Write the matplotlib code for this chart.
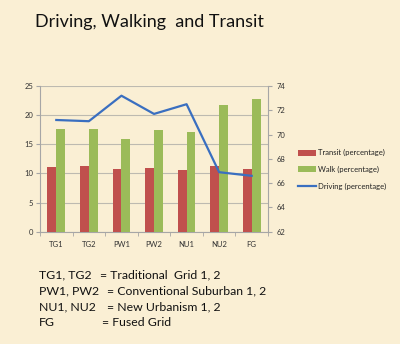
import matplotlib
matplotlib.use("Agg")
import matplotlib.pyplot as plt
import numpy as np
from matplotlib.patches import Patch
from matplotlib.lines import Line2D

categories = ["TG1", "TG2", "PW1", "PW2", "NU1", "NU2", "FG"]
transit = [11.1, 11.3, 10.8, 11.0, 10.5, 11.3, 10.8]
walk = [17.7, 17.6, 15.9, 17.4, 17.1, 21.8, 22.7]
driving = [71.2, 71.1, 73.2, 71.7, 72.5, 66.9, 66.6]
left_ticks = [0, 5, 10, 15, 20, 25]
right_ticks = [62, 64, 66, 68, 70, 72, 74]

notes_left = ["TG1, TG2", "PW1, PW2", "NU1, NU2", "FG"]
notes_right = ["= Traditional  Grid 1, 2", "= Conventional Suburban 1, 2",
               "= New Urbanism 1, 2", "= Fused Grid"]

bg = "#FAEFD4"
red = "#C0504D"
green = "#9BBB59"
blue = "#3A6FC0"
axis_gray = "#A6A6A6"
font = "Lato"

plt.rcParams['font.family'] = [font, 'DejaVu Sans']

fig = plt.figure(figsize=(4.0, 3.44), dpi=100, facecolor=bg)
ax = fig.add_axes([0.1, 0.3265, 0.57, 0.4235])
ax.set_facecolor("none")

x = np.arange(len(categories))
w = 0.27
ax.bar(x - 0.135, transit, width=w, color=red, zorder=3)
ax.bar(x + 0.135, walk, width=w, color=green, zorder=3)
ax.set_xlim(-0.5, len(categories) - 0.5)
ax.set_ylim(0, 25)
ax.set_yticks(left_ticks)
ax.yaxis.grid(True, color="#BDBAB0", linewidth=0.8, zorder=0)
ax.set_axisbelow(True)

ax.set_xticks(x)
ax.set_xticklabels(categories)
ax.set_xticks(np.arange(-0.5, len(categories), 1.0), minor=True)
ax.tick_params(axis='x', which='major', length=0, pad=7, labelsize=5.5, labelcolor="#333333")
ax.tick_params(axis='x', which='minor', length=3, color=axis_gray, direction='out')
ax.tick_params(axis='y', length=3, color=axis_gray, labelsize=5.5, labelcolor="#333333", pad=2)

for s in ["top", "right"]:
    ax.spines[s].set_visible(False)
for s in ["left", "bottom"]:
    ax.spines[s].set_color(axis_gray)
    ax.spines[s].set_linewidth(0.8)

ax2 = ax.twinx()
ax2.plot(x, driving, color=blue, linewidth=1.6, zorder=4)
ax2.set_ylim(62, 74)
ax2.set_yticks(right_ticks)
ax2.tick_params(axis='y', length=3, color=axis_gray, labelsize=5.5, labelcolor="#333333", pad=3)
for s in ["top", "left", "bottom"]:
    ax2.spines[s].set_visible(False)
ax2.spines["right"].set_color(axis_gray)
ax2.spines["right"].set_linewidth(0.8)

handles = [Patch(facecolor=red, edgecolor='none'),
           Patch(facecolor=green, edgecolor='none'),
           Line2D([0], [0], color=blue, linewidth=1.6)]
labels = ["Transit (percentage)", "Walk (percentage)", "Driving (percentage)"]
fig.legend(handles, labels, loc="center left", bbox_to_anchor=(0.735, 0.507),
           frameon=False, fontsize=5.5, handlelength=2.4, handleheight=0.8,
           handletextpad=0.2, labelspacing=1.25, borderpad=0, labelcolor="#222222")

fig.text(0.088, 0.935, "Driving, Walking  and Transit", fontsize=13, color="#111111",
         va="center", ha="left")

ys = [274.5, 290.5, 306.5, 322.5]
xr = [100, 107, 107, 102]
for i in range(4):
    fig.text(39 / 400, 1 - ys[i] / 344, notes_left[i], fontsize=8.8, color="#111111",
             va="center", ha="left")
    fig.text(xr[i] / 400, 1 - ys[i] / 344, notes_right[i], fontsize=8.8, color="#111111",
             va="center", ha="left")

fig.savefig("out.png", dpi=100, facecolor=bg)
